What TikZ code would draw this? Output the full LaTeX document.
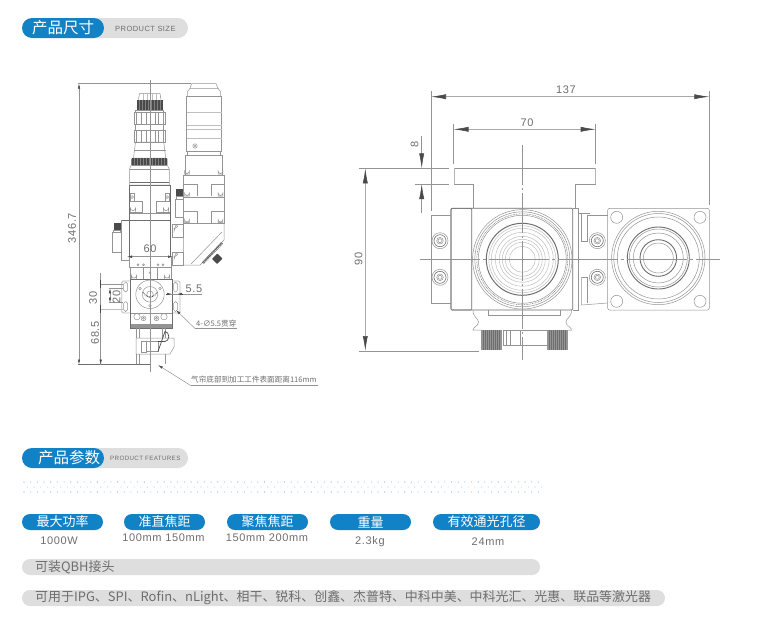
\documentclass[tikz,border=0pt]{standalone}
\usepackage{fontspec}
\setmainfont{Liberation Sans}
\newfontfamily\cjk{Noto Sans CJK SC}
\newfontfamily\spaced[LetterSpace=6]{Liberation Sans}
\usetikzlibrary{arrows.meta}
\definecolor{pillblue}{HTML}{1282C6}
\definecolor{pillgray}{HTML}{DEDEDE}
\definecolor{inkline}{HTML}{949494}
\definecolor{inkdark}{HTML}{4A4A4A}
\definecolor{inkmid}{HTML}{6E6E6E}
\definecolor{txtgray}{HTML}{6E6E6E}
\definecolor{dotblue}{HTML}{6FB6E2}
\tikzset{
 ln/.style={draw=inkline,line width=.5pt},
 lnd/.style={draw=inkmid,line width=.7pt},
 lnl/.style={draw=inkline!60,line width=.5pt},
 axisline/.style={draw=inkline,line width=.45pt},
 dimbig/.style={draw=inkline!80,line width=.6pt,{Latex[length=15pt,width=5pt,inkdark]}-{Latex[length=15pt,width=5pt,inkdark]}},
 dimsmall/.style={draw=inkline,line width=.5pt,{Latex[length=5pt,width=2.5pt,inkdark]}-{Latex[length=5pt,width=2.5pt,inkdark]}},
 extline/.style={draw=inkline,line width=.5pt},
 dimtxt/.style={font=\spaced\fontsize{11}{11}\selectfont,text=txtgray,inner sep=0pt},
 smalltxt/.style={font=\cjk\fontsize{7.6}{8}\selectfont,text=txtgray,inner sep=0pt,anchor=west},
 headtxt/.style={font=\cjk\fontsize{15.5}{16}\selectfont,text=white,inner sep=0pt},
 subtxt/.style={font=\spaced\fontsize{7.5}{7.5}\selectfont,text=txtgray,inner sep=0pt,anchor=west},
 pilltxt/.style={font=\cjk\fontsize{13}{13}\selectfont,text=white,inner sep=0pt},
 valtxt/.style={font=\spaced\fontsize{11}{11}\selectfont,text=txtgray,inner sep=0pt},
 bartxt/.style={font=\cjk\fontsize{12.95}{13}\selectfont,text=txtgray,inner sep=0pt,anchor=west},
}
\begin{document}
\begin{tikzpicture}[x=1pt,y=-1pt]
\useasboundingbox (0,0) rectangle (770,627);
\fill[white] (0,0) rectangle (770,627);

% ---------- headers
\fill[pillgray,rounded corners=10pt] (70,18) rectangle (188,38);
\fill[pillblue,rounded corners=10pt] (22,18) rectangle (104,38);
\node[headtxt] (h1) at (63,28) {产品尺寸};
\node[subtxt] (h1s) at (115,28.5) {PRODUCT SIZE};
\fill[pillgray,rounded corners=10pt] (70,448) rectangle (188,468);
\fill[pillblue,rounded corners=10pt] (22,448) rectangle (104,468);
\node[headtxt] (h2) at (69,458) {产品参数};
\node[subtxt,font=\spaced\fontsize{6.2}{6.2}\selectfont] (h2s) at (110,458.5) {PRODUCT FEATURES};

% ---------- dotted band
\foreach \i in {0,...,77}{
  \fill[dotblue] (24+6.68*\i,482) circle (.55);
  \fill[dotblue!60] (27.3+6.68*\i,487) circle (.55);
  \fill[dotblue] (24+6.68*\i,492) circle (.55);
}

% ---------- parameter pills
\foreach \a/\b/\t/\n in {22/103/最大功率/p1,124/205/准直焦距/p2,227/308/聚焦焦距/p3,330/411/重量/p4,433/540/有效通光孔径/p5}{
  \fill[pillblue,rounded corners=8pt] (\a,514) rectangle (\b,530);
  \node[pilltxt] (\n) at ({(\a+\b)/2},522) {\t};
}
\node[valtxt] (v1) at (59,541) {1000W};
\node[valtxt] (v2) at (163.5,538) {100mm 150mm};
\node[valtxt] (v3) at (267,538) {150mm 200mm};
\node[valtxt] (v4) at (370,542) {2.3kg};
\node[valtxt] (v5) at (488,542) {24mm};

\fill[pillgray,rounded corners=8pt] (22,559) rectangle (540,575);
\node[bartxt] (b1) at (35,567) {可装QBH接头};
\fill[pillgray,rounded corners=8pt] (22,590) rectangle (665,606);
\node[bartxt] (b2) at (35,598) {可用于IPG、SPI、Rofin、nLight、相干、锐科、创鑫、杰普特、中科中美、中科光汇、光惠、联品等激光器};

% ---------- LEFT VIEW : second column
\draw[ln] (191.7,83.5) -- (216,83.5) -- (218,88.3) -- (190,88.3) -- cycle;
\draw[ln] (190,88.3) -- (187.3,92) -- (187.3,96.7) -- (220.7,96.7) -- (220.7,92) -- (218,88.3);
\draw[ln] (186.7,96.7) rectangle (221.7,151.7);
\foreach \y in {112.5,125,129,138}{\draw[lnl] (186.7,\y) -- (221.7,\y);}
\draw[ln] (195,146) circle (2.2); \draw[ln] (195,146) circle (.8);
\draw[ln] (187.5,151.7) -- (187.5,155) (220.5,151.7) -- (220.5,155);
\draw[ln] (185.3,155) rectangle (222.7,175);
\draw[ln] (183.3,175) rectangle (224,223);
\draw[ln,line width=.8pt] (183.3,197) -- (224,197);
\foreach \x/\y in {187/172,220.5/172,187/194,220.5/194,187/220.5,220.5/220.5}{
  \draw[ln] (\x-2.4,\y+2) -- (\x-2.4,\y-1) arc (180:0:2.4) -- (\x+2.4,\y+2) -- cycle;
}
\draw[ln] (183.3,184.5) -- (197,184.5) -- (197,196);
\draw[ln] (224,184.5) -- (211,184.5) -- (211,196);
\draw[ln] (183.3,211.5) -- (197,211.5) -- (197,223);
\draw[ln] (224,211.5) -- (211,211.5) -- (211,223);
% angled mirror housing
\draw[ln] (183.3,223) -- (183.3,265) -- (200,265) -- (224,240) -- (224,223);
\draw[ln] (191,264) -- (222,232);
\draw[inkdark,line width=2.5pt,dash pattern=on .7pt off .8pt] (222,243) -- (203,263);
\draw[ln] (172,224) rectangle (183.3,237);
\draw[ln] (172,252) rectangle (183.3,265);
\draw[ln] (174,228) -- (176,228) arc (90:-90:1.7) -- (174,231.4) -- cycle;
\draw[ln] (174,256) -- (176,256) arc (90:-90:1.7) -- (174,259.4) -- cycle;
\fill[inkdark,rounded corners=.6pt,rotate around={45:(217.3,258.7)}] (213.5,255) rectangle (221,262.4);
% small knob column
\fill[inkdark] (176,189) rectangle (183,196);
\draw[ln] (176,196) rectangle (183,199);
\draw[ln] (175,199) rectangle (183,217);

% ---------- LEFT VIEW : lens column
\draw[ln] (138.5,99.5) -- (139.5,93.5) -- (160,93.5) -- (161,99.5);
\foreach \x in {143,147,152,156}{\draw[lnl] (\x,93.5) -- (\x,99.5);}
\fill[inkdark] (137,99.5) rectangle (162.5,110);
\foreach \x in {139,142,...,161}{\draw[gray,line width=.25pt] (\x,99.5) -- (\x,110);}
\draw[ln] (135.5,110) rectangle (163.7,112.7);
\draw[ln] (134.5,112.7) rectangle (165,124);
\draw[ln] (135.5,124) rectangle (163.7,130);
\draw[ln] (134.5,130) rectangle (165,142);
\foreach \x in {136,141,146,150,155,158,163}{
  \draw[inkline,line width=.7pt] (\x,112.7) -- (\x,124) (\x,130) -- (\x,142);}
\draw[ln] (135.5,142) -- (133.5,158) -- (165.7,158) -- (163.7,142) -- cycle;
\draw[ln] (133.5,150) -- (165.7,150);
\fill[inkdark,rounded corners=1pt] (131.3,158) rectangle (167.3,165.7);
\foreach \x in {134,137,...,165}{\draw[gray,line width=.25pt] (\x,158) -- (\x,165.7);}
\draw[ln] (131,165.7) -- (129.5,169) -- (129.5,185) -- (169.3,185) -- (169.3,169) -- (167.5,165.7) -- cycle;
\draw[ln] (129.5,169) -- (169.3,169);
\draw[inkmid,line width=.6pt] (129.5,182.5) -- (169.3,182.5);
\draw[inkmid,line width=.6pt] (129.5,185.5) -- (170,185.5);
\draw[inkmid,line width=.6pt] (129.5,185) -- (129.5,257) (170,185) -- (170,257);
\foreach \x in {132,167}{\draw[ln] (\x-2,193) rectangle (\x+2,201);\draw[ln] (\x,197) circle (1.4);}
\draw[ln] (129.5,201.5) -- (142.5,201.5) -- (142.5,212) -- (129.5,212);
\draw[ln] (170,201.5) -- (156.5,201.5) -- (156.5,212) -- (170,212);
\foreach \x in {133,166}{\draw[ln] (\x-2.6,212) -- (\x-2.6,208) arc (180:0:2.6) -- (\x+2.6,212);}
\draw[ln] (129.5,213.5) -- (170,213.5);
\draw[inkmid,line width=.6pt] (121.5,220) -- (170.5,220);
\draw[ln] (121.5,220) -- (121.5,260) -- (129.5,260);
\draw[ln] (112,232) rectangle (121.5,252);
\fill[inkdark] (113.5,222.7) rectangle (120.5,230);
\draw[ln] (113.5,230) rectangle (120.5,232.7);

% lower block
\draw[ln] (129.3,257) -- (129.3,267.5) -- (171.7,267.5) -- (171.7,257);
\foreach \x in {138,143.5,158,163}{\draw[ln] (\x,264.7) circle (1);}
\draw[ln] (130.7,267.5) rectangle (143.5,279);
\draw[ln] (157.5,267.5) rectangle (171.7,279);
\draw[ln] (150,272.5) circle (.9);
\foreach \x in {134,167}{\draw[ln] (\x-2.6,279) -- (\x-2.6,275.5) arc (180:0:2.6) -- (\x+2.6,279);}
% flange
\draw[draw=inkline!65,line width=.9pt,rounded corners=1.5pt] (121.7,281) rectangle (180,313);
\foreach \x in {125.7,175.5}{\foreach \y in {287,306.5}{
  \draw[ln,rounded corners=1.9pt] (\x-2,\y-5) rectangle (\x+2,\y+5);}}
\fill[white] (130.7,279) rectangle (172,328);
\fill[inkline] (130.7,323.5) rectangle (172,328);
\draw[inkmid,line width=.6pt] (130.7,279) rectangle (172,328);
\draw[ln] (130.7,313.3) -- (172,313.3);
\draw[ln] (150,294.3) circle (14.2);
\draw[ln] (150,294.3) circle (7.8);
\draw[ln] (150,294.3) circle (3.3);
\draw[inkdark,line width=1pt,dash pattern=on .7pt off .9pt] (143,292) arc (160:20:7.5);
\foreach \a in {-150,-30,90}{\draw[ln] (150,294.3)+(\a:11.5) circle (1.3);}
\draw[ln] (137,316.7) circle (3.2);
\draw[ln] (143.5,318.3) circle (2.4); \draw[ln] (143.5,318.3) circle (1);
\draw[ln] (156.5,318.3) circle (2.4); \draw[ln] (156.5,318.3) circle (1);
\draw[ln] (164,316.7) circle (3.2);
% nozzle
\draw[ln] (136,328) -- (136,338) (165,328) -- (165,338);
\draw[ln] (139,328) -- (139,338) (162,328) -- (162,338);
\draw[ln] (136,338) -- (174,338) -- (174,347) -- (170,354) -- (136,354) -- cycle;
\draw[ln] (141.5,341) rectangle (146,352);
\draw[ln] (146,341.5) rectangle (158,351.5);
\draw[inkdark,line width=.7pt] (158,341.5) -- (165,341.5) arc (90:-90:3.8 and 5) -- (158,351.5);
\draw[ln] (136,354) -- (136,364) (139,354) -- (139,364) (165,354) -- (165,364);

% left view axis + dimensions
\coordinate (axT) at (150,80); \coordinate (axB) at (150,372);
\draw[axisline] (axT) -- (axB);
\coordinate (topL) at (78,83.5); \coordinate (topR) at (191,83.5);
\draw[extline] (topL) -- (topR);
\coordinate (botL) at (78,364.5); \coordinate (botR) at (150,364.5);
\draw[inkmid,line width=.6pt] (botL) -- (botR);
\coordinate (d1a) at (79,83.5); \coordinate (d1b) at (79,364.5);
\draw[dimsmall] (d1a) -- (d1b);
\node[dimtxt,rotate=90] (t346) at (72,228) {346.7};
\coordinate (d2a) at (127,256.7); \coordinate (d2b) at (173,256.7);
\draw[dimsmall] (d2a) -- (d2b);
\node[dimtxt] (t60) at (150,249) {60};
\coordinate (e30a) at (99.5,284); \coordinate (e30b) at (123,284);
\coordinate (e30c) at (99.5,309); \coordinate (e30d) at (123,309);
\draw[extline] (e30a) -- (e30b);
\draw[lnl,line width=1pt] (e30c) -- (e30d);
\coordinate (d30a) at (100.7,273); \coordinate (d30b) at (100.7,364.5);
\draw[extline] (d30a) -- (d30b);
\foreach \y in {284,309}{\draw[inkdark,line width=.8pt] (100.7,\y-4) -- (100.7,\y+4);}
\coordinate (d30e) at (100.7,364.5);
\draw[dimsmall,{Latex[length=5pt,width=2.5pt,inkdark]}-] (d30e) -- +(0,-8);
\node[dimtxt,rotate=90] (t30) at (93,298) {30};
\node[dimtxt,rotate=90] (t685) at (95,333) {68.5};
\coordinate (d20a) at (110,288.3); \coordinate (d20b) at (110,302.7);
\draw[dimsmall] (d20a) -- (d20b);
\draw[extline] (109,288.3) -- (123,288.3) (109,302.7) -- (123,302.7);
\node[dimtxt,rotate=90] (t20) at (116.7,296.7) {20};
\coordinate (d55a) at (166,294); \coordinate (d55b) at (201.7,294);
\draw[extline] (d55a) -- (d55b);
\coordinate (a55a) at (166,294); \coordinate (a55b) at (172,294);
\coordinate (a55c) at (183,294); \coordinate (a55d) at (177,294);
\draw[inkdark,line width=.6pt,-{Latex[length=5pt,width=2.5pt]}] (a55a) -- (a55b);
\draw[inkdark,line width=.6pt,-{Latex[length=5pt,width=2.5pt]}] (a55c) -- (a55d);
\node[dimtxt] (t55) at (194,288.5) {5.5};
\coordinate (l1a) at (176,310); \coordinate (l1b) at (195,328.5); \coordinate (l1c) at (236.7,328.5);
\draw[extline,{Latex[length=5pt,width=2.5pt,inkdark]}-] (l1a) -- (l1b);
\draw[extline] (l1b) -- (l1c);
\node[smalltxt] (t4) at (196,324) {4-∅5.5贯穿};
\coordinate (l2a) at (158,365); \coordinate (l2b) at (190.7,385.5); \coordinate (l2c) at (318,385.5);
\draw[extline,{Latex[length=5pt,width=2.5pt,inkdark]}-] (l2a) -- (l2b);
\draw[extline] (l2b) -- (l2c);
\node[smalltxt] (t116) at (191,380) {气帘底部到加工工件表面距离116mm};

% ---------- RIGHT VIEW : collimator head
\draw[ln] (449,168.3) -- (359,168.3);
\draw[ln] (454,168.3) -- (595.7,168.3);
\draw[inkline!70,line width=.9pt] (595.7,168.3) -- (595.7,184);
\draw[ln] (595.7,184) -- (575,184) -- (575,208.3);
\draw[ln] (454,184) -- (473.7,184) -- (473.7,208.3);
\draw[inkline!70,line width=.9pt] (454,168.3) -- (454,184);
\draw[lnd,rounded corners=1pt] (451,208.3) rectangle (572.7,310);
\draw[inkmid,line width=.6pt,rounded corners=1pt] (451,208.3) rectangle (471.7,310);
\draw[ln] (431,215) -- (451,215) (431,303) -- (451,303);
\draw[ln] (431,215) -- (431,303);
\foreach \x/\y in {440/240.7,440/277.3,597.3/240.7,597.3/277.3}{
  \draw[ln] (\x,\y) circle (8); \draw[inkmid,line width=.6pt] (\x,\y) circle (6); \draw[ln] (\x,\y) circle (3.3); \draw[ln] (\x,\y) circle (2);
}
% main rings
\coordinate (mc) at (522.3,259.3);
\draw[ln] (mc) circle (49.7);
\draw[ln] (mc) circle (47.5);
\draw[inkmid,line width=.5pt,dash pattern=on .8pt off .8pt] (mc) circle (45.5);
\draw[ln] (mc) circle (44);
\draw[inkmid,line width=1pt] (mc) circle (36);
\foreach \r in {33.5,31,27,23,20,17,13}{\draw[lnl] (mc) circle (\r);}
% right side brackets
\draw[ln] (572.7,208.3) -- (578,208.3) -- (578,310) -- (572.7,310);
\draw[ln] (581.7,213) -- (581.7,241) -- (587,241) -- (587,215) -- (607.7,215);
\draw[ln] (581.7,277) -- (581.7,305) -- (607.7,303);
\draw[ln] (581.7,277) -- (587,277) -- (587,303);
\draw[ln] (578,213) -- (590,213);
% plate
\draw[ln,rounded corners=2pt] (607.7,208.3) rectangle (709.3,310);
\foreach \x/\y in {616.7/217.3,700/217.3,616.7/301.3,700/301.3}{\draw[ln] (\x,\y) circle (6);}
\coordinate (pc) at (658.3,258);
\foreach \r in {46.7,44.5,41,29,25,15}{\draw[ln] (pc) circle (\r);}
\draw[inkmid,line width=.9pt] (pc) circle (31);
\draw[inkmid,line width=.9pt] (pc) circle (18.3);
% bottom
\draw[ln] (488,310) -- (488,315) -- (560.7,315) -- (560.7,310);
\draw[ln] (473,310) .. controls (473,318) and (478.5,318) .. (478.5,322) .. controls (478.5,326) and (473,327) .. (473,330) -- (481,330);
\draw[ln] (571.5,310) .. controls (571.5,318) and (566,318) .. (566,322) .. controls (566,326) and (571.5,327) .. (571.5,330) -- (567.7,330);
\draw[ln] (503,330.7) rectangle (547,345);
\draw[ln] (510,330.7) rectangle (520,345);
\draw[ln] (506,330.7) -- (506,345);
\foreach \x in {481,547}{
  \fill[inkline] (\x,330) rectangle (\x+20.5,350);
  \foreach \k in {1,...,9}{\draw[inkmid,line width=.5pt] (\x+2*\k,330) -- (\x+2*\k,350);}
}
% axes
\coordinate (vT) at (522.3,145); \coordinate (vB) at (522.3,360);
\draw[axisline,dash pattern=on 40pt off 3pt on 2pt off 3pt] (vT) -- (vB);
\coordinate (hL) at (420,259.3); \coordinate (hR) at (720,259.3);
\draw[axisline,dash pattern=on 60pt off 3pt on 3pt off 3pt] (hL) -- (hR);
% dimensions
\coordinate (d137a) at (431,96.7); \coordinate (d137b) at (709.3,96.7);
\draw[dimbig] (d137a) -- (d137b);
\draw[extline] (431,91) -- (431,211);
\draw[extline] (709.3,91) -- (709.3,205);
\node[dimtxt] (t137) at (566,90) {137};
\coordinate (d70a) at (453.5,129.3); \coordinate (d70b) at (595.7,129.3);
\draw[dimbig] (d70a) -- (d70b);
\draw[extline] (453.5,123.7) -- (453.5,164);
\draw[extline] (595.7,123.7) -- (595.7,164);
\node[dimtxt] (t70) at (527,123) {70};
\coordinate (d8a) at (421.7,136); \coordinate (d8b) at (421.7,168.3);
\coordinate (d8c) at (421.7,184); \coordinate (d8d) at (421.7,213);
\draw[extline,-{Latex[length=15pt,width=5pt,inkdark]}] (d8a) -- (d8b);
\draw[extline,-{Latex[length=15pt,width=5pt,inkdark]}] (d8d) -- (d8c);
\draw[extline] (415,184) -- (449,184);
\node[dimtxt,rotate=90] (t8) at (414.5,144) {8};
\coordinate (d90a) at (365.3,168.3); \coordinate (d90b) at (365.3,351);
\draw[dimbig] (d90a) -- (d90b);
\draw[extline] (359,351) -- (479,351);
\node[dimtxt,rotate=90] (t90) at (358.5,259) {90};
\end{tikzpicture}
\end{document}
